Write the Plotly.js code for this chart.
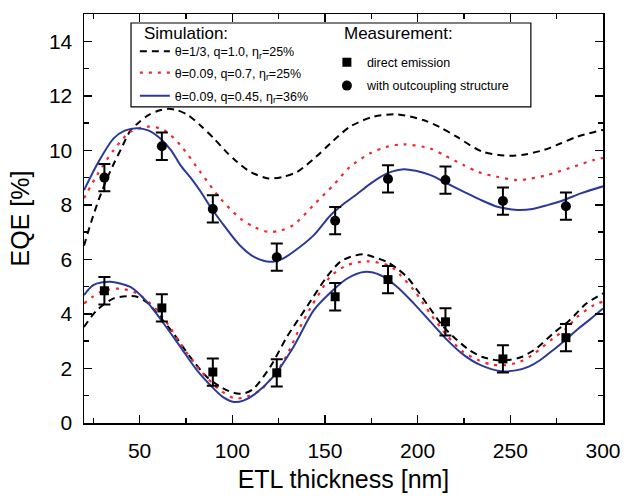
<!DOCTYPE html>
<html>
<head>
<meta charset="utf-8">
<script src="https://cdn.plot.ly/plotly-3.0.1.min.js"></script>
<style>html,body{margin:0;padding:0;background:#fff;}#chart{width:624px;height:496px;}</style>
</head>
<body>
<div id="chart"></div>
<script>
// ---- Measurements ----
const measX = [31, 62, 89.5, 124, 155.5, 184, 215, 246, 280];
const directY = [4.85, 4.22, 1.87, 1.84, 4.63, 5.26, 3.71, 2.35, 3.13];
const outY = [9.0, 10.15, 7.85, 6.08, 7.42, 8.95, 8.91, 8.14, 7.95];
const measErr = [0.5, 0.5, 0.5, 0.5, 0.5, 0.5, 0.5, 0.5, 0.5];

// ---- Simulation, with outcoupling structure (upper group) ----
const outBlackX = [20, 24, 28, 32, 36, 40, 45, 50, 55, 60, 65, 70, 76, 83, 90, 96, 102.5, 110, 119.5, 127, 135, 145, 153, 163.6, 176, 189, 203, 212, 221, 235, 250, 258, 268, 277, 286, 300];
const outBlackY = [6.5, 7.4, 8.2, 8.9, 9.5, 10.05, 10.72, 11.05, 11.3, 11.45, 11.52, 11.48, 11.3, 10.9, 10.44, 10.0, 9.58, 9.2, 8.97, 9.02, 9.21, 9.75, 10.26, 10.87, 11.23, 11.32, 11.11, 10.85, 10.5, 9.95, 9.8, 9.85, 10.01, 10.25, 10.5, 10.75];
const outRedX = [20, 27, 36, 45, 54, 63, 72, 82.7, 93.5, 104.3, 112, 119.5, 126, 133, 143.8, 154.6, 163.6, 174.4, 183, 192.4, 206.7, 215, 224.7, 233, 242.7, 253.4, 261, 269.6, 282, 294.8, 300];
const outRedY = [8.24, 9.09, 10.01, 10.68, 10.87, 10.75, 10.19, 9.21, 8.24, 7.5, 7.18, 7.01, 7.06, 7.26, 7.99, 8.73, 9.4, 9.89, 10.12, 10.22, 10.07, 9.8, 9.46, 9.2, 9.03, 8.91, 8.96, 9.09, 9.35, 9.64, 9.72];
const outBlueX = [20, 28, 36, 42, 48.5, 55, 61, 67, 72, 78, 83, 88, 94, 104, 112, 120.5, 127, 133, 144, 153, 160, 167, 174, 180, 186, 192.5, 199, 207, 215, 225, 235, 243, 249, 255, 262, 270, 279, 288, 300];
const outBlueY = [8.54, 9.6, 10.44, 10.72, 10.81, 10.72, 10.44, 10.0, 9.46, 8.95, 8.48, 7.95, 7.38, 6.52, 6.08, 5.91, 6.02, 6.28, 6.89, 7.62, 8.03, 8.38, 8.75, 9.03, 9.22, 9.31, 9.25, 9.09, 8.82, 8.48, 8.15, 7.93, 7.85, 7.81, 7.85, 7.99, 8.18, 8.42, 8.68];

// ---- Simulation, direct emission (lower group) ----
const dirBlackX = [20, 27, 36, 43, 48.6, 54, 59.4, 68.3, 77.3, 86.3, 95.3, 102.5, 107, 111.5, 120.5, 129.5, 140.2, 151, 158.2, 164, 170.8, 176.2, 183.4, 188.8, 194.2, 200, 206.7, 213, 219.3, 228, 235, 243, 250, 256, 264, 273, 282, 291, 300];
const dirBlackY = [3.52, 4.14, 4.57, 4.65, 4.63, 4.42, 4.02, 3.28, 2.42, 1.69, 1.26, 1.08, 1.1, 1.26, 2.06, 3.16, 4.26, 5.36, 5.91, 6.1, 6.19, 6.09, 5.91, 5.67, 5.36, 4.85, 4.2, 3.6, 3.16, 2.67, 2.42, 2.3, 2.32, 2.42, 2.73, 3.28, 3.77, 4.38, 4.75];
const dirRedX = [20, 29, 39, 48.6, 59.4, 66, 72, 82.7, 93.5, 101.6, 108, 115, 120, 125.8, 131, 136.6, 142, 147.4, 153, 162, 172.6, 185, 191, 198, 206.7, 215.7, 224.7, 233, 240, 247, 255, 262, 273, 280, 286, 295, 300];
const dirRedY = [4.38, 4.81, 4.93, 4.75, 4.14, 3.55, 2.91, 1.93, 1.2, 0.9, 0.97, 1.2, 1.55, 2.06, 2.7, 3.52, 4.2, 4.8, 5.38, 5.79, 5.93, 5.76, 5.4, 4.87, 4.02, 3.22, 2.6, 2.3, 2.14, 2.12, 2.24, 2.5, 3.1, 3.45, 3.89, 4.32, 4.45];
const dirBlueX = [20, 25, 34, 45, 54, 63, 72, 81, 90, 95, 101, 106, 112, 122, 133, 144, 154, 162, 171, 180, 189, 198, 207, 216, 225, 234, 245, 253, 260, 266, 273, 279, 286, 293, 300];
const dirBlueY = [4.69, 5.06, 5.18, 4.99, 4.44, 3.65, 2.79, 1.93, 1.26, 0.95, 0.77, 0.82, 1.05, 1.69, 2.79, 4.14, 4.85, 5.3, 5.54, 5.42, 4.99, 4.38, 3.71, 3.04, 2.49, 2.12, 1.9, 1.93, 2.07, 2.3, 2.67, 3.0, 3.42, 3.8, 4.2];

// ---- Labels ----
const simTitle = 'Simulation:';
const measTitle = 'Measurement:';
const simNames = ['θ=1/3, q=1.0, η<sub>r</sub>=25%', 'θ=0.09, q=0.7, η<sub>r</sub>=25%', 'θ=0.09, q=0.45, η<sub>r</sub>=36%'];
const measNames = ['direct emission', 'with outcoupling structure'];

const FONT = 'Arial, "Liberation Sans", sans-serif';
const blackLine = {color: '#000000', width: 2, dash: '7px,5px', shape: 'spline', smoothing: 0.8};
const redLine = {color: '#f0282d', width: 2.2, dash: '3px,6px', shape: 'spline', smoothing: 0.8};
const blueLine = {color: '#2b3a98', width: 2, dash: 'solid', shape: 'spline', smoothing: 0.8};

const traces = [
  {x: outBlackX, y: outBlackY, mode: 'lines', line: blackLine, name: simNames[0], legend: 'legend'},
  {x: outRedX, y: outRedY, mode: 'lines', line: redLine, name: simNames[1], legend: 'legend3'},
  {x: outBlueX, y: outBlueY, mode: 'lines', line: blueLine, name: simNames[2], legend: 'legend4'},
  {x: dirBlackX, y: dirBlackY, mode: 'lines', line: blackLine, showlegend: false},
  {x: dirRedX, y: dirRedY, mode: 'lines', line: redLine, showlegend: false},
  {x: dirBlueX, y: dirBlueY, mode: 'lines', line: blueLine, showlegend: false},
  {x: measX, y: directY, mode: 'markers', name: measNames[0], legend: 'legend2',
   marker: {symbol: 'square', size: 9, color: '#000000'},
   error_y: {type: 'data', array: measErr, visible: true, color: '#000000', thickness: 2, width: 6}},
  {x: measX, y: outY, mode: 'markers', name: measNames[1], legend: 'legend5',
   marker: {symbol: 'circle', size: 10, color: '#000000'},
   error_y: {type: 'data', array: measErr, visible: true, color: '#000000', thickness: 2, width: 6}}
];

const axisCommon = {
  showline: true, linecolor: '#000', linewidth: 1.5, mirror: 'ticks',
  ticks: 'inside', ticklen: 8, tickwidth: 1.5, tickcolor: '#000',
  showgrid: false, zeroline: false,
  tickfont: {family: FONT, size: 21, color: '#000'}
};

function oneLegend(x, y) {
  return {
    x: x, y: y, xanchor: 'left', yanchor: 'middle',
    bgcolor: 'rgba(0,0,0,0)', borderwidth: 0,
    font: {family: FONT, size: 12.5, color: '#000'},
    itemwidth: 30, tracegroupgap: 0
  };
}

const layout = {
  width: 624, height: 496,
  margin: {l: 84, r: 21, t: 14, b: 73},
  paper_bgcolor: '#fff', plot_bgcolor: '#fff',
  font: {family: FONT, color: '#000'},
  xaxis: Object.assign({}, axisCommon, {
    range: [20, 300], dtick: 50, tick0: 0, ticklabelstandoff: 8,
    minor: {dtick: 25, tick0: 0, ticks: 'inside', ticklen: 5, tickwidth: 1.5, tickcolor: '#000'},
    title: {text: 'ETL thickness [nm]', font: {family: FONT, size: 25, color: '#000'}, standoff: 10}
  }),
  yaxis: Object.assign({}, axisCommon, {
    range: [0, 15], dtick: 2, tick0: 0, ticklabelstandoff: 6,
    minor: {dtick: 1, tick0: 0, ticks: 'inside', ticklen: 5, tickwidth: 1.5, tickcolor: '#000'},
    title: {text: 'EQE [%]', font: {family: FONT, size: 25, color: '#000'}, standoff: 12}
  }),
  legend: oneLegend(0.098, 0.9078),
  legend3: oneLegend(0.098, 0.8557),
  legend4: oneLegend(0.098, 0.7995),
  legend2: oneLegend(0.468, 0.8809),
  legend5: oneLegend(0.468, 0.8240),
  annotations: [
    {text: simTitle, xref: 'paper', yref: 'paper', x: 0.1118, y: 0.9535, xanchor: 'left', yanchor: 'middle',
     showarrow: false, font: {family: FONT, size: 17, color: '#000'}},
    {text: measTitle, xref: 'paper', yref: 'paper', x: 0.497, y: 0.9535, xanchor: 'left', yanchor: 'middle',
     showarrow: false, font: {family: FONT, size: 17, color: '#000'}}
  ],
  shapes: [{
    type: 'rect', xref: 'paper', yref: 'paper',
    x0: 0.0906, x1: 0.861, y0: 0.773, y1: 0.978,
    line: {color: '#000', width: 1.2}, fillcolor: 'rgba(0,0,0,0)', layer: 'above'
  }]
};

Plotly.newPlot('chart', traces, layout, {displayModeBar: false, staticPlot: true});
</script>
</body>
</html>
